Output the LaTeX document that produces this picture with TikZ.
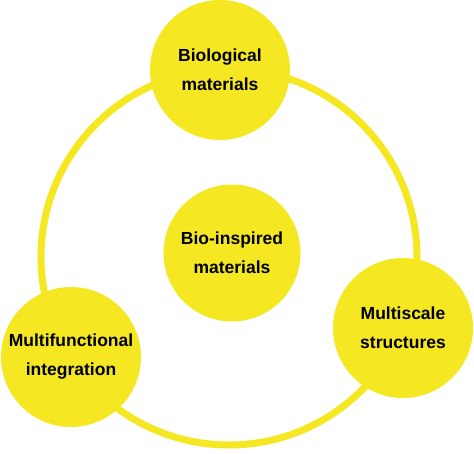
\documentclass[tikz,border=0pt]{standalone}
\usepackage{fontspec}
\setmainfont{Liberation Sans}
\usepackage{tikz}

\definecolor{bioyellow}{RGB}{245,232,34}

\tikzset{
  topic/.style={circle, fill=bioyellow, minimum size=140pt, inner sep=0pt,
    align=center, font=\bfseries\fontsize{17.5}{29}\selectfont},
}

\begin{document}
\begin{tikzpicture}[x=1pt, y=-1pt]

\useasboundingbox (0,0) rectangle (474,453);

% the cycle
\draw[bioyellow, line width=7pt] (229,257) circle (188);

\node[topic] (bio) at (220,70) {Biological\\materials};
\node[topic, minimum size=137pt] (inspired) at (232,253) {Bio-inspired\\materials};
\node[topic] (scale) at (403,328) {Multiscale\\structures};
\node[topic] (multi) at (71,357) {Multifunctional\\integration};

\end{tikzpicture}
\end{document}
